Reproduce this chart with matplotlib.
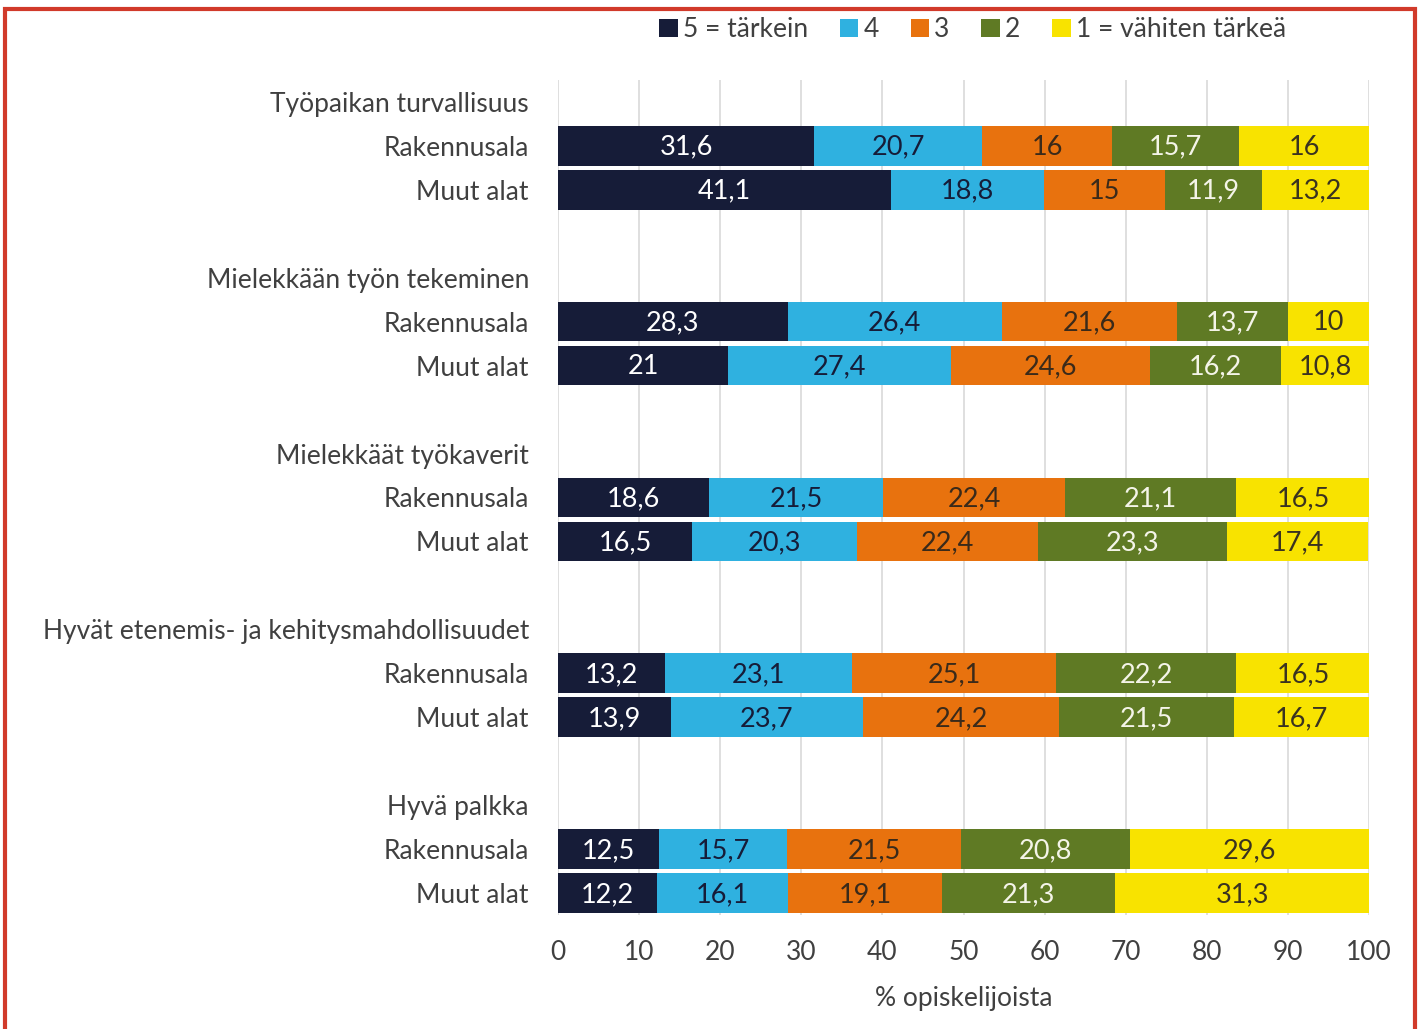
import matplotlib.pyplot as plt
from matplotlib.patches import Rectangle
import numpy as np

plt.rcParams['font.family'] = ['Lato', 'DejaVu Sans']

# =========================
# Data
# =========================
groups = ['Työpaikan turvallisuus', 'Mielekkään työn tekeminen', 'Mielekkäät työkaverit',
          'Hyvät etenemis- ja kehitysmahdollisuudet', 'Hyvä palkka']
rows = ['Rakennusala', 'Muut alat']
series = ['5 = tärkein', '4', '3', '2', '1 = vähiten tärkeä']

rakennusala = [[31.6, 20.7, 16, 15.7, 16],
               [28.3, 26.4, 21.6, 13.7, 10],
               [18.6, 21.5, 22.4, 21.1, 16.5],
               [13.2, 23.1, 25.1, 22.2, 16.5],
               [12.5, 15.7, 21.5, 20.8, 29.6]]
muut_alat = [[41.1, 18.8, 15, 11.9, 13.2],
             [21, 27.4, 24.6, 16.2, 10.8],
             [16.5, 20.3, 22.4, 23.3, 17.4],
             [13.9, 23.7, 24.2, 21.5, 16.7],
             [12.2, 16.1, 19.1, 21.3, 31.3]]

colors = ['#161c38', '#2fb1e0', '#e8720e', '#5f7a24', '#f8e300']
text_colors = ['white', '#161c38', '#3a2a1a', '#f4f4e8', '#3a3320']
label_col = '#404040'
fs = 19

fig = plt.figure(figsize=(14.24, 10.29), dpi=100)
ax = fig.add_axes([0.3919, 0.1108, 0.5695, 0.8115])

ypos, ylabels = [], []
for g, name in enumerate(groups):
    ypos.append(4 * g)
    ylabels.append(name)
    for r, vals in enumerate([rakennusala[g], muut_alat[g]]):
        y = 4 * g + 1 + r
        ypos.append(y)
        ylabels.append(rows[r])
        left = 0
        for k, v in enumerate(vals):
            ax.barh(y, v, left=left, height=0.9, color=colors[k],
                    label=series[k] if (g == 0 and r == 0) else None, zorder=2)
            txt = ('%g' % v).replace('.', ',')
            ax.text(left + v / 2, y + 0.03, txt, ha='center', va='center',
                    color=text_colors[k], fontsize=fs + 0.5, zorder=3)
            left += v

ax.set_xlim(0, 100)
ax.set_ylim(18.5, -0.5)
ax.set_xticks(np.arange(0, 101, 10))
ax.set_yticks(ypos)
ax.set_yticklabels(ylabels)
ax.tick_params(axis='y', length=0, pad=21, labelsize=fs, labelcolor=label_col)
ax.tick_params(axis='x', length=0, pad=18, labelsize=fs, labelcolor=label_col)
ax.grid(axis='x', color='#d9d9d9', linewidth=1.2, zorder=0)
for s in ax.spines.values():
    s.set_visible(False)
ax.set_xlabel('% opiskelijoista', fontsize=fs, color=label_col, labelpad=15)

fig.legend(loc='center', bbox_to_anchor=(0.683, 0.971), ncol=5, frameon=False,
           fontsize=fs, handlelength=0.7, handleheight=0.7, handletextpad=0.2,
           columnspacing=1.2, labelcolor=label_col)

# red frame around the figure
fig.patches.append(Rectangle((0.0035, -0.1), 0.9902, 1.0915, transform=fig.transFigure,
                             fill=False, edgecolor='#d13a2a', linewidth=3))

fig.savefig('out.png', dpi=100)
